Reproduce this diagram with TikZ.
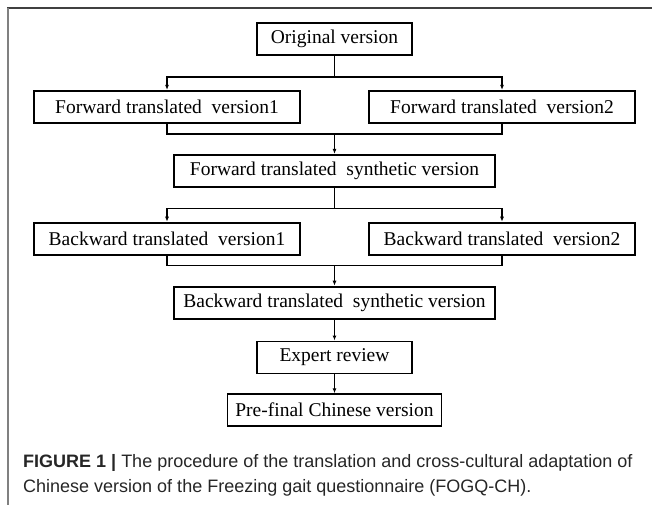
\documentclass[tikz,border=0pt]{standalone}
\usepackage{fontspec}
\setmainfont{Liberation Serif}
\newfontfamily\capfont{Liberation Sans}
\usepackage{tikz}
\usetikzlibrary{positioning,arrows.meta}

\begin{document}
\begin{tikzpicture}[x=1pt, y=-1pt, node distance=34pt, >={Latex[length=5pt,width=4pt]}]
\tikzset{
  stage/.style={rectangle, draw=black, line width=1.8pt, minimum height=32pt, inner sep=0pt,
    font=\fontsize{19.5}{22}\selectfont},
  link/.style={line width=1.3pt, black},
  captext/.style={anchor=base west, inner sep=0pt, text=black!85, font=\capfont\fontsize{18}{22}\selectfont},
}
\useasboundingbox (0,0) rectangle (652,505);
\draw[line width=2pt, black!75] (7,8) -- (652,8);
\draw[line width=2pt, black!50] (8,8) -- (8,505);

\node (orig) [stage, minimum width=155pt] at (334.5,39) {Original version};
\node (fwdone) [stage, below=of orig, xshift=-167.5pt, minimum width=266pt] {Forward translated~ version1};
\node (fwdtwo) [stage, below=of orig, xshift=167.5pt, minimum width=266pt] {Forward translated~ version2};
\node (fwdsyn) [stage, below=98pt of orig, minimum width=321pt] {Forward translated~ synthetic version};
\node (bwdone) [stage, below=of fwdsyn, xshift=-167.5pt, minimum width=266pt] {Backward translated~ version1};
\node (bwdtwo) [stage, below=of fwdsyn, xshift=167.5pt, minimum width=266pt] {Backward translated~ version2};
\node (bwdsyn) [stage, below=98pt of fwdsyn, minimum width=321pt] {Backward translated~ synthetic version};
\node (expert) [stage, below=21pt of bwdsyn, minimum width=155pt] {Expert review};
\node (prefinal) [stage, below=19pt of expert, minimum width=214pt] {Pre-final Chinese version};

\coordinate [below=21pt of orig] (fsplit);
\coordinate [above=20pt of fwdsyn] (fmerge);
\coordinate [below=21pt of fwdsyn] (bsplit);
\coordinate [above=20pt of bwdsyn] (bmerge);

\draw[link] (orig) -- (fsplit);
\draw[link, ->] (fsplit) -| (fwdone);
\draw[link, ->] (fsplit) -| (fwdtwo);
\draw[link] (fwdone) |- (fmerge) -| (fwdtwo);
\draw[link, ->] (fmerge) -- (fwdsyn);
\draw[link] (fwdsyn) -- (bsplit);
\draw[link, ->] (bsplit) -| (bwdone);
\draw[link, ->] (bsplit) -| (bwdtwo);
\draw[link] (bwdone) |- (bmerge) -| (bwdtwo);
\draw[link, ->] (bmerge) -- (bwdsyn);
\draw[link, ->] (bwdsyn) -- (expert);
\draw[link, ->] (expert) -- (prefinal);

% caption
\node (capone) [captext] at (23,467)
  {\textbf{FIGURE 1 |} The procedure of the translation and cross-cultural adaptation of};
\node (captwo) [captext] at (23,492)
  {Chinese version of the Freezing gait questionnaire (FOGQ-CH).};
\end{tikzpicture}
\end{document}
